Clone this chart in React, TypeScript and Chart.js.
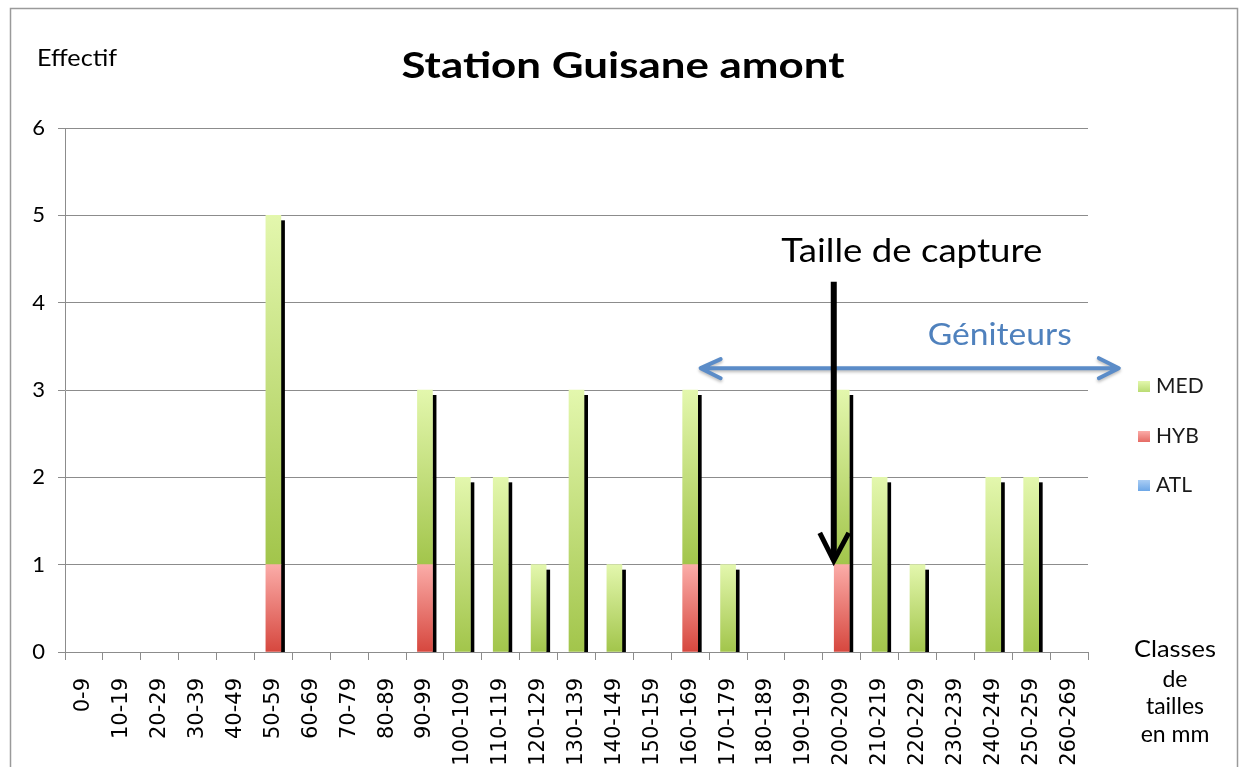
import React, { useEffect, useRef } from "react";
import { Chart, registerables } from "chart.js";

Chart.register(...registerables);

const categories = [
  "0-9", "10-19", "20-29", "30-39", "40-49", "50-59", "60-69", "70-79", "80-89", "90-99",
  "100-109", "110-119", "120-129", "130-139", "140-149", "150-159", "160-169", "170-179",
  "180-189", "190-199", "200-209", "210-219", "220-229", "230-239", "240-249", "250-259", "260-269",
];
const atl = [0, 0, 0, 0, 0, 0, 0, 0, 0, 0, 0, 0, 0, 0, 0, 0, 0, 0, 0, 0, 0, 0, 0, 0, 0, 0, 0];
const hyb = [0, 0, 0, 0, 0, 1, 0, 0, 0, 1, 0, 0, 0, 0, 0, 0, 1, 0, 0, 0, 1, 0, 0, 0, 0, 0, 0];
const med = [0, 0, 0, 0, 0, 4, 0, 0, 0, 2, 2, 2, 1, 3, 1, 0, 2, 1, 0, 0, 2, 2, 1, 0, 2, 2, 0];
const yTicks = [0, 1, 2, 3, 4, 5, 6];

const seriesNames = ["ATL", "HYB", "MED"];
const gradTop = ["#aacdf4", "#fbaca8", "#e3f7ad"];
const gradBottom = ["#4a88d4", "#d6473e", "#a2c54b"];
const legendColors = ["#67a3e6", "#e3655e", "#b6d96d"];

// annotation anchors (category index, value)
const captureArrow = { x: 19.79, from: 4.24, to: 1.02 };
const captureLabel = { x: 21.85, y: 4.47, text: "Taille de capture" };
const spawnArrow = { from: 16.25, to: 27.34, y: 3.25 };
const spawnLabel = { x: 24.17, y: 3.52, text: "Géniteurs" };

const CAL = "Lato, 'Open Sans', sans-serif";

function fitText(
  ctx: CanvasRenderingContext2D, text: string, x: number, y: number, size: number,
  weight: string, color: string, targetW: number, align: CanvasTextAlign = "center"
) {
  ctx.save();
  ctx.font = `${weight} ${size}px ${CAL}`;
  const w = ctx.measureText(text).width;
  let s = targetW ? targetW / w : 1;
  s = Math.max(0.8, Math.min(1.35, s));
  ctx.translate(x, y);
  ctx.scale(s, 1);
  ctx.textAlign = align;
  ctx.textBaseline = "alphabetic";
  ctx.fillStyle = color;
  ctx.fillText(text, 0, 0);
  ctx.restore();
}

const series = [atl, hyb, med];

const decorPlugin = {
  id: "decor",
  beforeDraw(chart: any) {
    const { ctx, width, height } = chart;
    ctx.save();
    ctx.fillStyle = "#ffffff";
    ctx.fillRect(0, 0, width, height);
    ctx.strokeStyle = "#9a9a9a";
    ctx.lineWidth = 1.5;
    ctx.beginPath();
    ctx.moveTo(10.5, height);
    ctx.lineTo(10.5, 8.5);
    ctx.lineTo(1237.5, 8.5);
    ctx.lineTo(1237.5, height);
    ctx.stroke();
    ctx.restore();
  },
  beforeDatasetsDraw(chart: any) {
    const { ctx } = chart;
    const y = chart.scales.y;
    const x = chart.scales.x;
    ctx.save();
    ctx.fillStyle = "#000000";
    categories.forEach((_, i) => {
      const total = atl[i] + hyb[i] + med[i];
      if (!total) return;
      const left = x.getPixelForValue(i) + 7.5;
      const top = y.getPixelForValue(total) + 5;
      const bottom = y.getPixelForValue(0);
      ctx.fillRect(left, top, 4, bottom - top);
    });
    ctx.restore();
  },
  afterDraw(chart: any) {
    const { ctx } = chart;
    const x = chart.scales.x;
    const y = chart.scales.y;

    // Title and axis titles
    fitText(ctx, "Station Guisane amont", 623, 78, 37, "bold", "#000", 443);
    fitText(ctx, "Effectif", 37, 66, 23, "normal", "#000", 80, "left");
    const classLines = ["Classes", "de", "tailles", "en mm"];
    const classBase = [657, 687, 714, 742];
    classLines.forEach((t, i) => {
      fitText(ctx, t, 1175, classBase[i], 23, "normal", "#000", i === 0 ? 82 : 0);
    });

    // Legend
    const legendOrder = [2, 1, 0];
    const legendBase = [393, 443, 492];
    legendOrder.forEach((si, k) => {
      ctx.save();
      const g = ctx.createLinearGradient(0, legendBase[k] - 12, 0, legendBase[k]);
      g.addColorStop(0, gradTop[si]);
      g.addColorStop(1, legendColors[si]);
      ctx.fillStyle = g;
      ctx.fillRect(1138, legendBase[k] - 12, 12, 11);
      ctx.restore();
      fitText(ctx, seriesNames[si], 1156, legendBase[k], 21, "normal", "#1a1a1a", 0, "left");
    });

    // Géniteurs double arrow
    const ax1 = x.getPixelForValue(spawnArrow.from);
    const ax2 = x.getPixelForValue(spawnArrow.to);
    const ay = y.getPixelForValue(spawnArrow.y);
    ctx.save();
    ctx.strokeStyle = "#5b8cc8";
    ctx.lineWidth = 4;
    ctx.lineCap = "round";
    ctx.lineJoin = "round";
    ctx.shadowColor = "rgba(0,0,0,0.25)";
    ctx.shadowBlur = 3;
    ctx.shadowOffsetY = 2;
    ctx.beginPath();
    ctx.moveTo(ax1 + 2, ay);
    ctx.lineTo(ax2 - 2, ay);
    ctx.moveTo(ax1 + 21, ay - 9);
    ctx.lineTo(ax1 + 1, ay);
    ctx.lineTo(ax1 + 21, ay + 10);
    ctx.moveTo(ax2 - 21, ay - 10);
    ctx.lineTo(ax2 - 1, ay);
    ctx.lineTo(ax2 - 21, ay + 10);
    ctx.stroke();
    ctx.restore();
    fitText(ctx, spawnLabel.text, x.getPixelForValue(spawnLabel.x), y.getPixelForValue(spawnLabel.y), 30, "normal", "#4f81bd", 144);

    // Taille de capture arrow
    const cx = x.getPixelForValue(captureArrow.x);
    const cy1 = y.getPixelForValue(captureArrow.from);
    const cy2 = y.getPixelForValue(captureArrow.to);
    ctx.save();
    ctx.strokeStyle = "#000";
    ctx.lineWidth = 6;
    ctx.beginPath();
    ctx.moveTo(cx, cy1);
    ctx.lineTo(cx, cy2 - 3);
    ctx.stroke();
    ctx.lineWidth = 5;
    ctx.lineJoin = "miter";
    ctx.beginPath();
    ctx.moveTo(cx - 14, cy2 - 30);
    ctx.lineTo(cx, cy2 - 2);
    ctx.lineTo(cx + 15, cy2 - 30);
    ctx.stroke();
    ctx.restore();
    fitText(ctx, captureLabel.text, x.getPixelForValue(captureLabel.x), y.getPixelForValue(captureLabel.y), 33, "normal", "#000", 261);
  },
};

function makeBg(si: number) {
  return (c: any) => {
    const chart = c.chart;
    if (!chart.chartArea || c.type !== "data") return legendColors[si];
    const i = c.dataIndex;
    let base = 0;
    for (let k = 0; k < si; k++) base += series[k][i];
    const top = base + series[si][i];
    const ys = chart.scales.y;
    const yTop = ys.getPixelForValue(top);
    const yBot = ys.getPixelForValue(base);
    if (!isFinite(yTop) || !isFinite(yBot) || yTop === yBot) return "rgba(0,0,0,0)";
    const g = chart.ctx.createLinearGradient(0, yTop, 0, yBot);
    g.addColorStop(0, gradTop[si]);
    g.addColorStop(1, gradBottom[si]);
    return g;
  };
}

export default function App() {
  const ref = useRef<HTMLCanvasElement | null>(null);
  useEffect(() => {
    if (!ref.current) return;
    const chart = new Chart(ref.current, {
      type: "bar",
      data: {
        labels: categories,
        datasets: series.map((d, si) => ({
          label: seriesNames[si],
          data: d.map((v) => (v === 0 ? null : v)),
          backgroundColor: makeBg(si),
          borderWidth: 0,
          barThickness: 15,
        })),
      },
      options: {
        animation: false,
        responsive: false,
        maintainAspectRatio: false,
        layout: { padding: { left: 0, top: 128, right: 152, bottom: 0 } },
        plugins: {
          legend: { display: false },
          title: { display: false },
          tooltip: { enabled: false },
        },
        scales: {
          x: {
            stacked: true,
            offset: true,
            grid: {
              offset: true,
              drawOnChartArea: false,
              drawTicks: true,
              tickLength: 8,
              color: "#8c8c8c",
            },
            border: { color: "#8c8c8c" },
            ticks: {
              autoSkip: false,
              minRotation: 90,
              maxRotation: 90,
              padding: 18,
              color: "#000",
              font: { family: "'DejaVu Sans', sans-serif", size: 21 },
            },
            afterFit: (s: any) => {
              s.height = 115;
            },
          },
          y: {
            stacked: true,
            min: 0,
            max: 6,
            afterBuildTicks: (s: any) => {
              s.ticks = yTicks.map((v) => ({ value: v }));
            },
            grid: {
              color: "#8c8c8c",
              tickLength: 7,
              drawTicks: true,
            },
            border: { color: "#8c8c8c" },
            ticks: {
              padding: 13,
              color: "#000",
              font: { family: CAL, size: 22 },
            },
            afterFit: (s: any) => {
              s.width = 65;
            },
          },
        },
      },
      plugins: [decorPlugin],
    } as any);
    return () => chart.destroy();
  }, []);
  return (
    <div style={{ position: "fixed", left: 0, top: 0, width: 1240, height: 767, background: "#fff" }}>
      <canvas ref={ref} width={1240} height={767} style={{ width: 1240, height: 767, display: "block" }} />
    </div>
  );
}
